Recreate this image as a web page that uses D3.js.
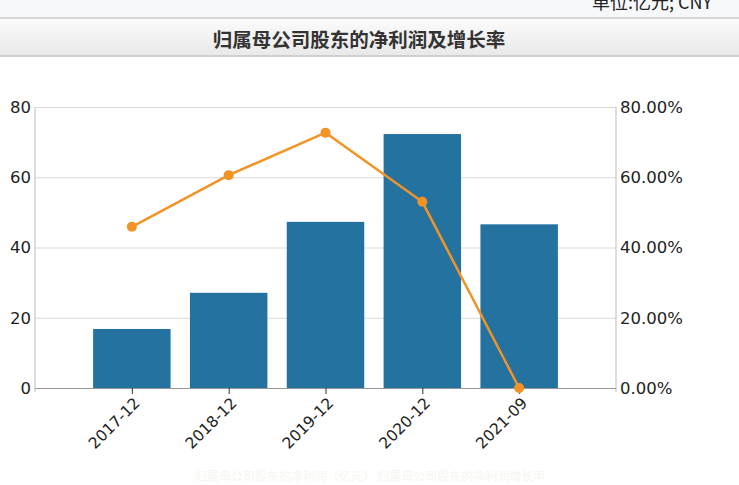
<!DOCTYPE html>
<html>
<head>
<meta charset="utf-8">
<script src="https://cdn.jsdelivr.net/npm/d3@7"></script>
<style>
  html, body { margin:0; padding:0; background:#fff; }
  svg { display:block; font-family:"DejaVu Sans", Verdana, sans-serif; }
</style>
</head>
<body>
<div id="chart"></div>
<script>
// data
var categories = ["2017-12", "2018-12", "2019-12", "2020-12", "2021-09"];
var profit = [16.8, 27.1, 47.3, 72.3, 46.6];     // 亿元
var growth = [45.9, 60.6, 72.7, 53.0, 0.0];      // %
var leftTicks = [0, 20, 40, 60, 80];
var rightTicks = [0, 20, 40, 60, 80];

var W = 739, H = 485;
var svg = d3.select("#chart").append("svg").attr("width", W).attr("height", H);

var defs = svg.append("defs");
var grad = defs.append("linearGradient").attr("id", "hdr").attr("x1", 0).attr("y1", 0).attr("x2", 0).attr("y2", 1);
grad.append("stop").attr("offset", "0%").attr("stop-color", "#fbfbfb");
grad.append("stop").attr("offset", "100%").attr("stop-color", "#e9e9e9");

// top strip + title bar
svg.append("rect").attr("x", 0).attr("y", 0).attr("width", W).attr("height", 18).attr("fill", "#f7f8fa");
svg.append("text").attr("x", 592).attr("y", 9).attr("font-size", 18).attr("fill", "#222")
  .style("font-family", "'Noto Sans CJK SC', sans-serif").text("单位:亿元; CNY");
svg.append("rect").attr("x", 0).attr("y", 17).attr("width", W).attr("height", 2).attr("fill", "#d6d6d6");
svg.append("rect").attr("x", 0).attr("y", 19).attr("width", W).attr("height", 37).attr("fill", "url(#hdr)");
svg.append("rect").attr("x", 0).attr("y", 55).attr("width", W).attr("height", 2).attr("fill", "#cfcfcf");
svg.append("text").attr("x", 359).attr("y", 47).attr("text-anchor", "middle")
  .attr("font-size", 19.5).attr("font-weight", "bold").attr("fill", "#333")
  .style("font-family", "'Noto Sans CJK SC', sans-serif")
  .text("归属母公司股东的净利润及增长率");

var pLeft = 35, pRight = 616, pTop = 107, pBottom = 388;

var x = d3.scalePoint().domain(categories).range([pLeft, pRight]).padding(1);
var bw = x.step() * 0.8;
var yL = d3.scaleLinear().domain([0, 80]).range([pBottom, pTop]);
var yR = d3.scaleLinear().domain([0, 80]).range([pBottom, pTop]);

// grid
svg.append("g").selectAll("line").data(leftTicks.slice(1)).join("line")
  .attr("x1", pLeft).attr("x2", pRight)
  .attr("y1", d => yL(d) + 0.5).attr("y2", d => yL(d) + 0.5)
  .attr("stroke", "#d9d9d9").attr("stroke-width", 1);

// bars
svg.append("g").selectAll("rect").data(profit).join("rect")
  .attr("x", (d, i) => x(categories[i]) - bw / 2)
  .attr("width", bw)
  .attr("y", d => yL(d))
  .attr("height", d => pBottom - yL(d))
  .attr("fill", "#2372a0");

// axes
var axL = svg.append("g").attr("transform", "translate(" + pLeft + ",0)")
  .call(d3.axisLeft(yL).tickValues(leftTicks).tickSize(0).tickPadding(4));
var axR = svg.append("g").attr("transform", "translate(" + pRight + ",0)")
  .call(d3.axisRight(yR).tickValues(rightTicks).tickSize(0).tickPadding(4).tickFormat(d => d.toFixed(2) + "%"));
var axB = svg.append("g").attr("transform", "translate(0," + pBottom + ")")
  .call(d3.axisBottom(x).tickSize(6).tickFormat(""));

[axL, axR, axB].forEach(function (g) {
  g.select(".domain").attr("stroke", "#bdbdbd");
  g.selectAll(".tick line").attr("stroke", "#333");
  g.selectAll("text").attr("font-size", 16.5).attr("fill", "#222").style("font-family", "'DejaVu Sans', sans-serif");
});
axB.select(".domain").attr("d", "M" + pLeft + ",0.5H" + pRight).attr("stroke", "#999");
axL.select(".domain").attr("d", "M0," + pTop + "V" + (pBottom + 4));
axR.select(".domain").attr("d", "M0," + pTop + "V" + (pBottom + 4));

// rotated category labels
svg.append("g").selectAll("text").data(categories).join("text")
  .attr("transform", d => "translate(" + (x(d) + 9) + "," + (pBottom + 16) + ") rotate(-45)")
  .attr("text-anchor", "end")
  .attr("font-size", 15.5).attr("fill", "#222")
  .text(d => d);

// growth line
var line = d3.line().x((d, i) => x(categories[i])).y(d => yR(d));
svg.append("path").datum(growth).attr("d", line)
  .attr("fill", "none").attr("stroke", "#f39325").attr("stroke-width", 2.5);
svg.append("g").selectAll("circle").data(growth).join("circle")
  .attr("cx", (d, i) => x(categories[i])).attr("cy", d => yR(d)).attr("r", 5)
  .attr("fill", "#f39325");

// faint legend at bottom
svg.append("text").attr("x", 370).attr("y", 481).attr("text-anchor", "middle")
  .attr("font-size", 12).attr("fill", "#f6f6ee")
  .style("font-family", "'Noto Sans CJK SC', sans-serif")
  .text("归属母公司股东的净利润（亿元）  归属母公司股东的净利润增长率");
</script>
</body>
</html>
